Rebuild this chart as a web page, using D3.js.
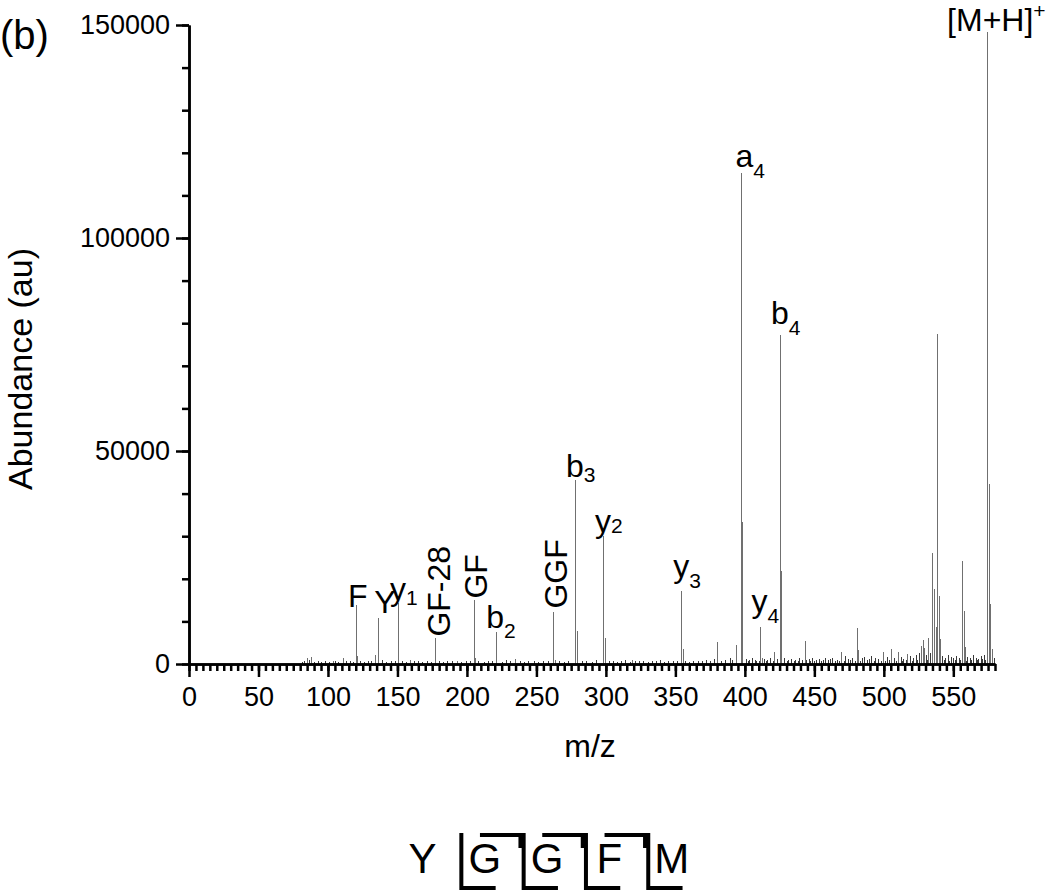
<!DOCTYPE html>
<meta charset="utf-8">
<style>
body{ margin:0; background:#fff; }
text{ font-family:"Liberation Sans", Arial, sans-serif; fill:#000; }
.axis path, .axis line{ stroke:#000; stroke-width:2.5px; }
.peak{ stroke:#707070; stroke-width:1px; shape-rendering:crispEdges; }
.noise{ stroke:#3a3a3a; stroke-width:1px; shape-rendering:crispEdges; }
.lab{ font-size:32px; }
.sub{ font-size:21px; }
.frag{ fill:none; stroke:#000; stroke-width:4px; }
</style>
<body>
<script src="https://d3js.org/d3.v7.min.js"></script>
<script>

// labelled fragment peaks (m/z, abundance)
var labMz  = [120.1, 136.1, 150.1, 177.1, 205.1, 221.1, 262.1, 278.1, 298.0, 354.2, 397.2, 411.2, 425.2, 574.3];
var labInt = [13800, 10700, 14400, 6200, 15000, 7500, 12300, 43300, 30000, 17100, 115300, 8750, 77200, 148300];
var labName = ["F","Y","y","GF-28","GF","b","GGF","b","y","y","a","y","b","[M+H]"];
var labSub  = ["","","1","","","2","","3","2","3","4","4","4","+"];
var labRot  = [false,false,false,true,true,false,true,false,false,false,false,false,false,false];

// other visible peaks
var pkMz  = [538.4, 534.8, 535.9, 537.2, 539.7, 540.6, 556.6, 557.5, 558.5, 575.5, 576.2, 577.6,
             526.4, 528.2, 529.1, 532.0, 480.5, 481.5, 443.0, 380.2, 393.6, 421.2, 469.4, 499.6,
             505.4, 510.4, 517.0, 398.2, 426.2, 279.1, 299.0, 355.2, 121.1, 206.1, 84.9, 88.0,
             103.6, 110.8, 133.6, 159.0, 193.0, 234.5, 263.4, 319.0, 412.2];
var pkInt = [77500, 26000, 17500, 8600, 16000, 5900, 24200, 12400, 4000, 42250, 14200, 3450,
             4200, 5600, 3800, 6100, 8500, 3300, 5400, 5100, 4450, 2700, 2900, 2750,
             3450, 2900, 2400, 33400, 21900, 7800, 6100, 3500, 1900, 1400, 1500, 1700,
             800, 1300, 2100, 900, 700, 1100, 1000, 900, 1500];

// baseline noise
var noiseMz  = [81.5,83,86.5,90,92.5,95,98,101,105,107.5,113,116,118,123,126,129,131,139,142,145,148,
                153,156,162,165,168,171,174,180,183,186,189,196,199,202,208,212,215,218,225,228,231,
                238,241,244,248,251,255,258,266,270,273,283,286,290,293,302,305,308,311,314,317,321,
                324,327,330,333,336,339,342,345,348,351,357,360,363,366,369,372,375,378,383,386,389,
                391,401,403,405,408,414,416,418,423,428,431,433,436,439,441,446,448,451,453,456,458,
                461,463,466,472,474,477,484,486,489,491,494,496,502,507,512,514,519,521,523,525,530,
                533,542,544,546,548,550,552,554,560,562,564,566,568,570,572,579,
                402,407,410,415,420,425,430,435,438,444,447,450,455,460,465,468,471,476,479,483,488,
                493,498,501,504,509,513,516,520,524,527,531,543,547,551,555,559,563,567,571,573,578];
var noiseInt = [400,600,900,500,700,400,600,500,700,500,600,800,500,700,500,800,600,900,500,700,600,
                700,500,600,800,500,600,400,700,500,600,800,500,700,600,800,500,700,600,500,900,600,
                700,500,600,800,500,700,600,700,500,800,600,700,500,900,600,800,500,700,900,500,700,
                600,800,500,700,600,900,500,700,800,600,700,500,800,600,700,900,600,1100,800,900,1400,
                1000,1200,900,1300,800,1100,900,1500,1200,1400,900,1200,1000,1300,900,1100,1400,1000,1200,900,1500,
                1100,1300,1000,1800,1200,1500,1300,1600,1100,1900,1400,1200,1700,1300,1600,1200,1800,1400,2000,2600,2200,
                2500,1800,1400,2200,1600,1300,1900,1500,1700,1300,2000,1500,1200,1800,2100,1300,
                700,900,600,800,700,900,600,800,700,900,700,800,600,900,700,800,600,900,700,800,900,
                700,800,600,900,700,800,1000,700,900,800,1000,900,800,1000,900,800,1000,900,1100,1000,900];

var xTicksMajor = d3.range(0, 551, 50);
var xTicksMinor = d3.range(0, 581, 5);
var yTicksMajor = [0, 50000, 100000, 150000];
var yTicksMinor = d3.range(0, 150001, 10000);

// peptide sequence and observed cleavages (b ions / y ions)
var residues = ["Y","G","G","F","M"];
var bSeen = [false, true, true, true];
var ySeen = [true, true, true, true];

// label placement relative to peak top
var labPos = {
  "F":{dx:-8,dy:1.3}, "Y":{dx:-4,dy:-5.4}, "y1":{dx:-7.6,dy:-2.7,sdy:5},
  "GF-28":{dx:15,dy:-1}, "GF":{dx:13,dy:-1.5}, "b2":{dx:-10,dy:-3.6,sdy:10},
  "GGF":{dx:14,dy:-3}, "b3":{dx:-9.5,dy:-2.8,sdy:5}, "y2":{dx:-8,dy:-4.5,sdy:1.6},
  "y3":{dx:-8,dy:-14.6,sdy:11.4}, "a4":{dx:-5.5,dy:-6,sdy:11.3}, "y4":{dx:-9,dy:-15,sdy:11.4},
  "b4":{dx:-9,dy:-11,sdy:11}, "[M+H]+":{dx:-40,dy:-1,sdy:-13}
};

var svg = d3.select("body").append("svg").attr("width", 1050).attr("height", 891);

var x = d3.scaleLinear().domain([0, 580]).range([189, 995]);
var y = d3.scaleLinear().domain([0, 150000]).range([664, 25]);

// noise and peaks
svg.append("g").selectAll("line").data(d3.zip(noiseMz, noiseInt)).join("line")
  .attr("class","noise")
  .attr("x1", d=>Math.round(x(d[0]))+0.5).attr("x2", d=>Math.round(x(d[0]))+0.5)
  .attr("y1", y(0)).attr("y2", d=>y(d[1]));

svg.append("g").selectAll("line").data(d3.zip(pkMz, pkInt)).join("line")
  .attr("class","peak")
  .attr("x1", d=>Math.round(x(d[0]))+0.5).attr("x2", d=>Math.round(x(d[0]))+0.5)
  .attr("y1", y(0)).attr("y2", d=>y(d[1]));

svg.append("g").selectAll("line").data(d3.zip(labMz, labInt)).join("line")
  .attr("class","peak")
  .attr("x1", d=>Math.round(x(d[0]))+0.5).attr("x2", d=>Math.round(x(d[0]))+0.5)
  .attr("y1", y(0)).attr("y2", d=>y(d[1]));

// axes
svg.append("g").attr("class","axis").attr("transform","translate(0,664)")
  .call(d3.axisBottom(x).tickValues(xTicksMinor).tickSize(7).tickSizeOuter(0).tickFormat(""));
svg.append("g").attr("class","axis").attr("transform","translate(0,664)")
  .call(d3.axisBottom(x).tickValues(xTicksMajor).tickSize(13).tickSizeOuter(0).tickPadding(10).tickFormat(d3.format("d")));

svg.append("g").attr("class","axis").attr("transform","translate(189,0)")
  .call(d3.axisLeft(y).tickValues(yTicksMinor).tickSize(7).tickSizeOuter(0).tickFormat(""));
svg.append("g").attr("class","axis").attr("transform","translate(189,0)")
  .call(d3.axisLeft(y).tickValues(yTicksMajor).tickSize(13).tickSizeOuter(0).tickPadding(6).tickFormat(d3.format("d")));

svg.selectAll(".axis").attr("font-size", null).attr("font-family", null);
svg.selectAll(".axis text").attr("fill","#000")
  .style("font-size","27px").style("font-family","'Liberation Sans', Arial, sans-serif");

// titles
svg.append("text").attr("x",0).attr("y",49).style("font-size","40px").text("(b)");
svg.append("text").attr("transform","translate(32,369) rotate(-90)")
  .attr("text-anchor","middle").style("font-size","34px").text("Abundance (au)");
svg.append("text").attr("x",590).attr("y",757).attr("text-anchor","middle")
  .style("font-size","32px").text("m/z");

// peak labels
labName.forEach(function(n, i){
  var key = n + labSub[i];
  var p = labPos[key];
  var px = x(labMz[i]) + p.dx, py = y(labInt[i]) + p.dy;
  var t = svg.append("text").attr("class","lab");
  if(labRot[i]){
    t.attr("transform","translate("+px+","+py+") rotate(-90)").text(n);
  } else {
    t.attr("x",px).attr("y",py);
    t.append("tspan").text(n);
    if(labSub[i]) t.append("tspan").attr("class","sub").attr("dy",p.sdy).text(labSub[i]);
  }
});

// sequence with fragment marks
var sx = d3.scalePoint().domain(d3.range(residues.length)).range([422.5, 671.7]);
svg.append("g").selectAll("text").data(residues).join("text")
  .attr("x",(d,i)=>sx(i)).attr("y",873).attr("text-anchor","middle")
  .style("font-size","42px").text(d=>d);

var cuts = d3.range(residues.length-1).map(i=>(sx(i)+sx(i+1))/2);
svg.append("g").selectAll("path.b").data(cuts.filter((c,i)=>bSeen[i])).join("path")
  .attr("class","frag").attr("d", c=>"M"+(c-36)+",835H"+(c+4.5)+"V848");
svg.append("g").selectAll("path.y").data(cuts.filter((c,i)=>ySeen[i])).join("path")
  .attr("class","frag").attr("d", c=>"M"+(c+7.7)+",833V888H"+(c+42));

</script>
</body>
</html>
